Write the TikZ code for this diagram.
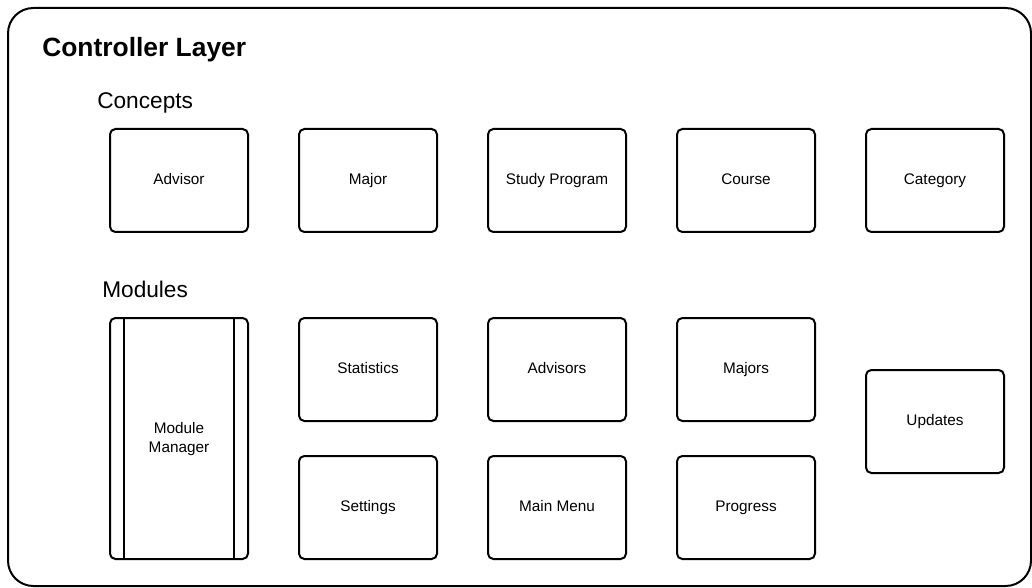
\documentclass[tikz,border=0pt]{standalone}
\usepackage{fontspec}
\setmainfont{Liberation Sans}
\usetikzlibrary{positioning}
\tikzset{
	layer/.style={draw=black, line width=1.5pt, rounded corners=19pt},
	heading/.style={inner sep=0pt, anchor=base west, font=\fontsize{19.8pt}{23pt}\selectfont\bfseries},
	group/.style={inner sep=0pt, anchor=base west, font=\fontsize{17pt}{20pt}\selectfont},
	unit/.style={rectangle, rounded corners=4pt, draw=black, line width=1.5pt, outer sep=0pt, minimum width=103.5pt, minimum height=77.25pt, align=center, text centered, text height=8.2pt, text depth=2pt, font=\fontsize{11.5pt}{14pt}\selectfont},
	tall/.style={unit, minimum height=180.75pt, text height=, text depth=2pt},
	gap/.style={node distance=38.25pt},
}
\begin{document}
\begin{tikzpicture}[x=0.75pt, y=-0.75pt]
	\useasboundingbox (0,0) rectangle (1032,588);
	% outer frame
	\draw[layer] (8,8) rectangle (1031,586);
	\node[heading] (title) at (42,57) {Controller Layer};
	\node[group] (concepts) at (97,109) {Concepts};
	\node[group] (modules) at (102,297) {Modules};
	% concepts row
	\node[unit] (advisor) at (179,180.5) {Advisor};
	\node[unit, gap, right=of advisor] (major) {Major};
	\node[unit, gap, right=of major] (program) {Study Program};
	\node[unit, gap, right=of program] (course) {Course};
	\node[unit, gap, right=of course] (category) {Category};
	% modules
	\node[tall, below=64.5pt of advisor] (manager) {Module\\Manager};
	\draw[line width=1.5pt] ([xshift=10.5pt]manager.north west) -- ([xshift=10.5pt]manager.south west);
	\draw[line width=1.5pt] ([xshift=-10.5pt]manager.north east) -- ([xshift=-10.5pt]manager.south east);
	\node[unit, below=64.5pt of major] (statistics) {Statistics};
	\node[unit, below=64.5pt of program] (advisors) {Advisors};
	\node[unit, below=64.5pt of course] (majors) {Majors};
	\node[unit, below=26.25pt of statistics] (settings) {Settings};
	\node[unit, below=26.25pt of advisors] (menu) {Main Menu};
	\node[unit, below=26.25pt of majors] (progress) {Progress};
	\node[unit, below=103.5pt of category] (updates) {Updates};
\end{tikzpicture}
\end{document}
